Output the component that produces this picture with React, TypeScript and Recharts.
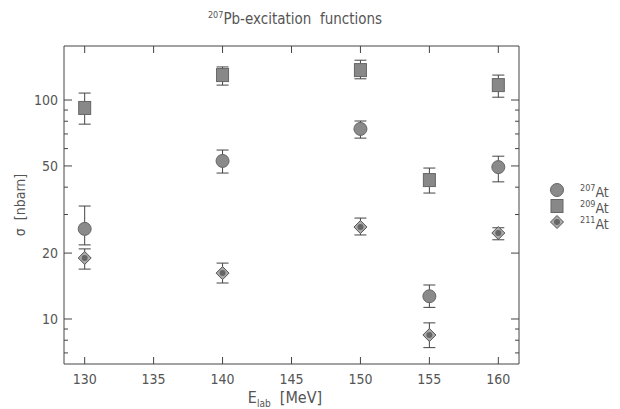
import React from 'react';
import { ScatterChart, Scatter, XAxis, YAxis, ErrorBar, Legend, ReferenceArea } from 'recharts';

// beam energies (MeV)
const energies = [130, 140, 150, 155, 160];

// cross sections in nbarn, with lower / upper error limits
const at207 = [25.8, 52.7, 73.8, 12.7, 49.4];
const at207Lo = [21.8, 46.4, 67.0, 11.3, 42.3];
const at207Hi = [32.8, 59.1, 80.2, 14.3, 55.4];

const at209 = [92, 130, 137, 43.1, 117];
const at209Lo = [77.6, 117, 125, 37.6, 103];
const at209Hi = [107.6, 141.6, 152, 48.9, 130];

const at211 = [19.0, 16.2, 26.3, 8.45, 24.7];
const at211Lo = [16.9, 14.6, 24.2, 7.4, 23.0];
const at211Hi = [20.9, 18.0, 28.9, 9.6, 26.1];

const xTicks = [130, 135, 140, 145, 150, 155, 160];
const yMajor = [10, 20, 50, 100];
const yTicks = [7, 8, 9, 10, 20, 30, 40, 50, 60, 70, 80, 90, 100];

const X_DOMAIN = [128.5, 161.5];
const Y_DOMAIN = [6.23, 176.5];

const W = 620;
const H = 409;
const M = { top: 46, right: 101, bottom: 0, left: 0 };
const Y_AXIS_W = 64;
const X_AXIS_H = 45;
const PLOT_W = W - M.left - M.right - Y_AXIS_W;
const PLOT_H = H - M.top - M.bottom - X_AXIS_H;

const FONT = "'Liberation Sans Narrow', 'DejaVu Sans Condensed', 'Liberation Sans', sans-serif";
const INK = '#444';
const TXT = '#555';

const build = (vals: number[], lo: number[], hi: number[]) =>
  energies.map((e, i) => ({ e, v: vals[i], err: [vals[i] - lo[i], hi[i] - vals[i]] }));

const d207 = build(at207, at207Lo, at207Hi);
const d209 = build(at209, at209Lo, at209Hi);
const d211 = build(at211, at211Lo, at211Hi);

const Circle = ({ cx, cy }: any) => (
  <circle cx={cx} cy={cy} r={6.5} fill="#8a8a8a" stroke="#666" strokeWidth={1} />
);
const Square = ({ cx, cy }: any) => (
  <rect x={cx - 6} y={cy - 6.5} width={12} height={13} fill="#888" stroke="#666" strokeWidth={1} />
);
const Diamond = ({ cx, cy }: any) => (
  <g>
    <polygon points={`${cx},${cy - 6.5} ${cx + 6.5},${cy} ${cx},${cy + 6.5} ${cx - 6.5},${cy}`} fill="#aaa" stroke="#555" strokeWidth={1} />
    <circle cx={cx} cy={cy} r={3} fill="#666" />
  </g>
);

// left axis tick, mirrored onto the right frame edge
const YTick = (props: any) => {
  const { x, y, payload } = props;
  const major = yMajor.includes(payload.value);
  const len = major ? 8 : 4;
  return (
    <g>
      <line x1={x} y1={y} x2={x + len} y2={y} stroke={INK} strokeWidth={1} />
      <line x1={x + PLOT_W} y1={y} x2={x + PLOT_W - len} y2={y} stroke={INK} strokeWidth={1} />
      {major && (
        <text x={x - 6} y={y + 5} textAnchor="end" fontSize={14} fill={TXT} fontFamily={FONT}>
          {payload.value}
        </text>
      )}
    </g>
  );
};

// bottom axis tick, mirrored onto the top frame edge
const XTick = (props: any) => {
  const { x, y, payload } = props;
  return (
    <g>
      <line x1={x} y1={y} x2={x} y2={y - 7} stroke={INK} strokeWidth={1} />
      <line x1={x} y1={y - PLOT_H} x2={x} y2={y - PLOT_H + 7} stroke={INK} strokeWidth={1} />
      <text x={x} y={y + 20} textAnchor="middle" fontSize={14} fill={TXT} fontFamily={FONT}>
        {payload.value}
      </text>
    </g>
  );
};

const legendItems = [
  { iso: '207', Shape: Circle },
  { iso: '209', Shape: Square },
  { iso: '211', Shape: Diamond },
];

const LegendBox = () => (
  <div style={{ fontFamily: FONT, color: TXT }}>
    {legendItems.map(({ iso, Shape }) => (
      <div key={iso} style={{ display: 'flex', alignItems: 'center', height: 16 }}>
        <svg width={18} height={16}>
          <Shape cx={9} cy={8} />
        </svg>
        <span style={{ marginLeft: 14, fontSize: 14, lineHeight: '16px' }}>
          <sup style={{ fontSize: 9 }}>{iso}</sup>At
        </span>
      </div>
    ))}
  </div>
);

export default function App() {
  return (
    <div style={{ position: 'absolute', left: 0, top: 0, width: W, height: H, background: '#fff', fontFamily: FONT }}>
      <div style={{ position: 'absolute', left: 0, width: 590, top: 10, textAlign: 'center', fontSize: 15, color: TXT }}>
        <sup style={{ fontSize: 9 }}>207</sup>Pb-excitation&nbsp; functions
      </div>
      <div
        style={{
          position: 'absolute', left: 20, top: 205, transform: 'translate(-50%, -50%) rotate(-90deg)',
          fontSize: 14, color: TXT, whiteSpace: 'nowrap',
        }}
      >
        σ&nbsp; [nbarn]
      </div>
      <div
        style={{
          position: 'absolute', left: 0, width: 570, top: 390, textAlign: 'center',
          fontSize: 16, lineHeight: '16px', color: TXT,
        }}
      >
        E<sub style={{ fontSize: 10, lineHeight: 0 }}>lab</sub>&nbsp; [MeV]
      </div>

      <ScatterChart width={W} height={H} margin={M}>
        <XAxis
          xAxisId="b" dataKey="e" type="number" domain={X_DOMAIN} ticks={xTicks}
          allowDataOverflow height={X_AXIS_H} tickSize={0} tickMargin={0} tickLine={false}
          axisLine={false} tick={<XTick />} interval={0}
        />
        <YAxis
          yAxisId="l" dataKey="v" type="number" scale="log" domain={Y_DOMAIN} ticks={yTicks}
          allowDataOverflow width={Y_AXIS_W} tickSize={0} tickMargin={0} tickLine={false}
          axisLine={false} tick={<YTick />} interval={0}
        />
        <ReferenceArea
          xAxisId="b" yAxisId="l" x1={X_DOMAIN[0]} x2={X_DOMAIN[1]} y1={Y_DOMAIN[0]} y2={Y_DOMAIN[1]}
          fill="none" fillOpacity={0} stroke={INK} strokeWidth={1} ifOverflow="visible"
        />
        <Legend
          layout="vertical" align="center" verticalAlign="middle"
          content={() => <LegendBox />}
          wrapperStyle={{ left: 548, top: 182, width: 70 }}
        />
        <Scatter name="209At" data={d209} xAxisId="b" yAxisId="l" shape={<Square />} isAnimationActive={false}>
          <ErrorBar dataKey="err" direction="y" width={6} stroke={INK} strokeWidth={1} isAnimationActive={false} />
        </Scatter>
        <Scatter name="207At" data={d207} xAxisId="b" yAxisId="l" shape={<Circle />} isAnimationActive={false}>
          <ErrorBar dataKey="err" direction="y" width={6} stroke={INK} strokeWidth={1} isAnimationActive={false} />
        </Scatter>
        <Scatter name="211At" data={d211} xAxisId="b" yAxisId="l" shape={<Diamond />} isAnimationActive={false}>
          <ErrorBar dataKey="err" direction="y" width={6} stroke={INK} strokeWidth={1} isAnimationActive={false} />
        </Scatter>
      </ScatterChart>
    </div>
  );
}
